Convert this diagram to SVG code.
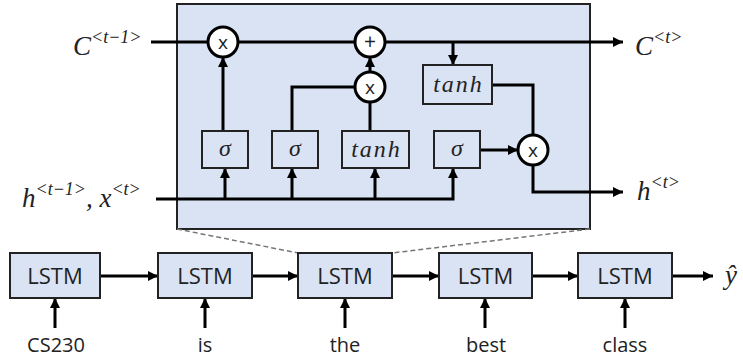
<svg xmlns="http://www.w3.org/2000/svg" width="743" height="358" viewBox="0 0 743 358">
<defs>
<marker id="ah" viewBox="0 0 10 10" refX="10" refY="5" markerWidth="10" markerHeight="10" markerUnits="userSpaceOnUse" orient="auto">
<path d="M0,0 L10,5 L0,10 z" fill="#000"/>
</marker>
<style>
.ln{stroke:#000;stroke-width:3;fill:none}
.box{fill:#dae3f3;stroke:#222;stroke-width:2}
.gate{fill:#dae3f3;stroke:#222;stroke-width:2}
.op{fill:#fff;stroke:#000;stroke-width:3}
.math{font-family:"Liberation Serif","DejaVu Serif",serif;font-style:italic;fill:#222}
.sans{font-family:"Open Sans","Noto Sans","Liberation Sans",sans-serif;fill:#222}
.dash{stroke:#777;stroke-width:1.5;stroke-dasharray:5,3;fill:none}
</style>
</defs>
<rect x="177" y="4" width="413" height="225" fill="#dae3f3" stroke="#222" stroke-width="2"/>
<g id="connectors">
<line class="dash" x1="177" y1="229" x2="298" y2="253"/>
<line class="dash" x1="590" y1="229" x2="392" y2="253"/>
<line class="ln" x1="151" y1="42" x2="208" y2="42"/>
<line class="ln" x1="238" y1="42" x2="355" y2="42"/>
<line class="ln" x1="385" y1="42" x2="623" y2="42" marker-end="url(#ah)"/>
<line class="ln" x1="453" y1="42" x2="453" y2="65" marker-end="url(#ah)"/>
<polyline class="ln" points="156,199 453,199 453,168" marker-end="url(#ah)"/>
<line class="ln" x1="225" y1="199" x2="225" y2="168" marker-end="url(#ah)"/>
<line class="ln" x1="292" y1="199" x2="292" y2="168" marker-end="url(#ah)"/>
<line class="ln" x1="375" y1="199" x2="375" y2="168" marker-end="url(#ah)"/>
<line class="ln" x1="223" y1="131" x2="223" y2="57" marker-end="url(#ah)"/>
<polyline class="ln" points="292,131 292,87 355,87"/>
<line class="ln" x1="370" y1="131" x2="370" y2="102"/>
<line class="ln" x1="370" y1="72" x2="370" y2="57" marker-end="url(#ah)"/>
<line class="ln" x1="480" y1="150" x2="518" y2="150" marker-end="url(#ah)"/>
<polyline class="ln" points="492,85 533,85 533,135"/>
<polyline class="ln" points="533,165 533,192 623,192" marker-end="url(#ah)"/>
<line class="ln" x1="100" y1="276" x2="158" y2="276" marker-end="url(#ah)"/>
<line class="ln" x1="252" y1="276" x2="298" y2="276" marker-end="url(#ah)"/>
<line class="ln" x1="392" y1="276" x2="439" y2="276" marker-end="url(#ah)"/>
<line class="ln" x1="532" y1="276" x2="578" y2="276" marker-end="url(#ah)"/>
<line class="ln" x1="672" y1="276" x2="713" y2="276" marker-end="url(#ah)"/>
<line class="ln" x1="55" y1="328" x2="55" y2="298" marker-end="url(#ah)"/>
<line class="ln" x1="205" y1="328" x2="205" y2="298" marker-end="url(#ah)"/>
<line class="ln" x1="345" y1="328" x2="345" y2="298" marker-end="url(#ah)"/>
<line class="ln" x1="485" y1="328" x2="485" y2="298" marker-end="url(#ah)"/>
<line class="ln" x1="625" y1="328" x2="625" y2="298" marker-end="url(#ah)"/>
</g>
<g id="forget_mul"><circle class="op" cx="223" cy="42" r="15"/><text class="sans" x="223" y="49" font-size="19" text-anchor="middle">x</text></g>
<g id="add"><circle class="op" cx="370" cy="42" r="15"/><text class="sans" x="370" y="49" font-size="21" text-anchor="middle">+</text></g>
<g id="input_mul"><circle class="op" cx="370" cy="87" r="15"/><text class="sans" x="370" y="94" font-size="19" text-anchor="middle">x</text></g>
<g id="output_mul"><circle class="op" cx="533" cy="150" r="15"/><text class="sans" x="533" y="157" font-size="19" text-anchor="middle">x</text></g>
<g id="sigma1"><rect class="gate" x="202" y="131" width="46" height="37"/><text class="math" x="225" y="156" font-size="24" text-anchor="middle">σ</text></g>
<g id="sigma2"><rect class="gate" x="272" y="131" width="46" height="37"/><text class="math" x="295" y="156" font-size="24" text-anchor="middle">σ</text></g>
<g id="tanh1"><rect class="gate" x="342" y="131" width="67" height="37"/><text class="math" x="376.5" y="157" font-size="24" letter-spacing="2" text-anchor="middle">tanh</text></g>
<g id="sigma3"><rect class="gate" x="434" y="131" width="46" height="37"/><text class="math" x="457" y="156" font-size="24" text-anchor="middle">σ</text></g>
<g id="tanh2"><rect class="gate" x="423" y="65" width="69" height="39"/><text class="math" x="458.5" y="92" font-size="24" letter-spacing="2" text-anchor="middle">tanh</text></g>
<g id="labels">
<text class="math" x="73" y="55" font-size="27">C<tspan font-size="18" dy="-12">&lt;t−1&gt;</tspan></text>
<text class="math" x="635" y="55" font-size="27">C<tspan font-size="18" dy="-12">&lt;t&gt;</tspan></text>
<text class="math" x="22" y="207" font-size="27">h<tspan font-size="18" dy="-12">&lt;t−1&gt;</tspan><tspan dy="12">, x</tspan><tspan font-size="18" dy="-12">&lt;t&gt;</tspan></text>
<text class="math" x="637" y="200" font-size="27">h<tspan font-size="18" dy="-12">&lt;t&gt;</tspan></text>
<text class="math" x="725" y="284" font-size="27">ŷ</text>
</g>
<g id="lstm1"><rect class="box" x="10" y="253" width="90" height="45"/><text class="sans" x="55" y="284" font-size="22" text-anchor="middle">LSTM</text></g>
<g id="lstm2"><rect class="box" x="158" y="253" width="94" height="45"/><text class="sans" x="205" y="284" font-size="22" text-anchor="middle">LSTM</text></g>
<g id="lstm3"><rect class="box" x="298" y="253" width="94" height="45"/><text class="sans" x="345" y="284" font-size="22" text-anchor="middle">LSTM</text></g>
<g id="lstm4"><rect class="box" x="439" y="253" width="93" height="45"/><text class="sans" x="485.5" y="284" font-size="22" text-anchor="middle">LSTM</text></g>
<g id="lstm5"><rect class="box" x="578" y="253" width="94" height="45"/><text class="sans" x="625" y="284" font-size="22" text-anchor="middle">LSTM</text></g>
<g id="words">
<text class="sans" x="56" y="352" font-size="20" text-anchor="middle">CS230</text>
<text class="sans" x="205" y="352" font-size="20" text-anchor="middle">is</text>
<text class="sans" x="345" y="352" font-size="20" text-anchor="middle">the</text>
<text class="sans" x="486" y="352" font-size="20" text-anchor="middle">best</text>
<text class="sans" x="625" y="352" font-size="20" text-anchor="middle">class</text>
</g>
</svg>
